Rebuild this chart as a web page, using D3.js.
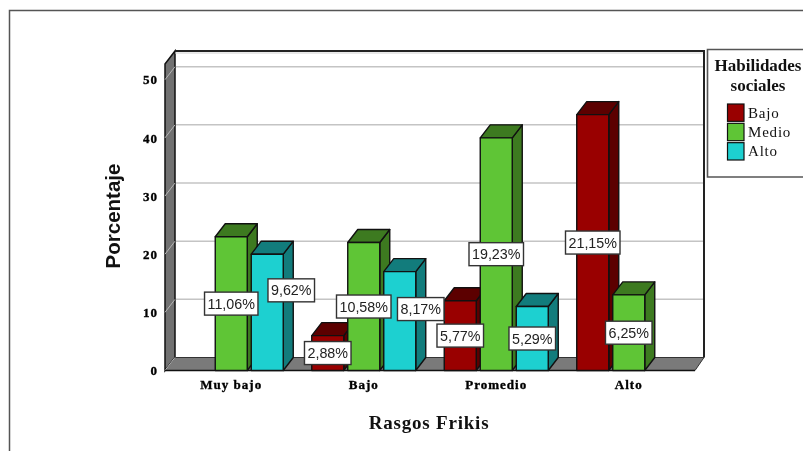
<!DOCTYPE html>
<html><head><meta charset="utf-8">
<script src="https://cdn.jsdelivr.net/npm/d3@7"></script>
<style>
html,body{margin:0;padding:0;background:#fff;overflow:hidden}
svg{display:block;filter:blur(0.35px)}
.serif{font-family:"Liberation Serif",serif}
.sans{font-family:"Liberation Sans",sans-serif}
</style></head><body>
<svg id="c" width="803" height="451"></svg>
<script>
const categories = ["Muy bajo","Bajo","Promedio","Alto"];
const seriesNames = ["Bajo","Medio","Alto"];
const bajoValues  = [null, 6, 12, 44];
const medioValues = [23, 22, 40, 13];
const altoValues  = [20, 17, 11, null];
const bajoLabels  = [null, "2,88%", "5,77%", "21,15%"];
const medioLabels = ["11,06%", "10,58%", "19,23%", "6,25%"];
const altoLabels  = ["9,62%", "8,17%", "5,29%", null];
const yTicks = [0,10,20,30,40,50];
const axisTitleX = "Rasgos Frikis";
const axisTitleY = "Porcentaje";
const legendTitle = ["Habilidades","sociales"];

const seriesValues = [bajoValues, medioValues, altoValues];
const seriesLabels = [bajoLabels, medioLabels, altoLabels];
const fronts = ["#990000","#5FC536","#1DD0D0"];
const shades = ["#5C0000","#3D7A20","#127C7C"];
const DX = 10, DY = 13;

const svg = d3.select("#c");
const x0 = d3.scaleBand().domain(categories).range([165,695]);
const x1 = d3.scaleBand().domain(seriesNames).range([0,104]).paddingInner(1/9);
const groupInset = (x0.bandwidth()-104)/2;
const y = d3.scaleLinear().domain([0,52.7]).range([370.5,64]);
const pts = a => a.map(p=>p.join(",")).join(" ");

// outer frame
svg.append("path").attr("d","M9.5,451V10.5H803").attr("fill","none").attr("stroke","#555").attr("stroke-width",1.5);

const plotLeft=165,plotRight=695,base=y(0),plotTop=y(52.7);
// back wall
svg.append("rect").attr("x",plotLeft+DX).attr("y",plotTop-DY).attr("width",plotRight-plotLeft).attr("height",base-plotTop).attr("fill","#fff");
// gridlines
yTicks.slice(1).forEach(t=>{
  svg.append("line").attr("x1",plotLeft+DX).attr("x2",plotRight+DX-1).attr("y1",y(t)-DY).attr("y2",y(t)-DY)
    .attr("stroke","#C4C4C4").attr("stroke-width",1.5);
});
// left wall & floor
svg.append("polygon").attr("points",pts([[plotLeft,plotTop],[plotLeft+DX,plotTop-DY],[plotLeft+DX,base-DY],[plotLeft,base]]))
  .attr("fill","#717171").attr("stroke","#111").attr("stroke-width",1.5);
svg.append("polygon").attr("points",pts([[plotLeft,base],[plotLeft+DX,base-DY],[plotRight+DX-1,base-DY],[plotRight,base]]))
  .attr("fill","#7A7A7A").attr("stroke","#333").attr("stroke-width",1);
yTicks.forEach(t=>{
  svg.append("line").attr("x1",plotLeft).attr("x2",plotLeft+DX).attr("y1",y(t)).attr("y2",y(t)-DY)
    .attr("stroke","#B5B5B5").attr("stroke-width",1);
});
// top and right edge
svg.append("line").attr("x1",plotLeft+DX).attr("x2",plotRight+DX-1).attr("y1",plotTop-DY+2).attr("y2",plotTop-DY+2).attr("stroke","#D0D0D0").attr("stroke-width",1);
svg.append("path").attr("d",`M${plotLeft+DX},${plotTop-DY}H${plotRight+DX-1}V${base-DY}`).attr("fill","none").attr("stroke","#222").attr("stroke-width",2);
svg.append("line").attr("x1",plotLeft).attr("x2",plotRight).attr("y1",base).attr("y2",base).attr("stroke","#111").attr("stroke-width",1.5);

// bars, left to right
categories.forEach((c,ci)=>{
  seriesNames.forEach((s,si)=>{
    const v = seriesValues[si][ci];
    if(v==null) return;
    const xa = x0(c)+groupInset+x1(s), w = x1.bandwidth(), yt = y(v);
    const g = svg.append("g").attr("stroke","#111").attr("stroke-width",1.4).attr("stroke-linejoin","round");
    g.append("polygon").attr("points",pts([[xa+w,yt],[xa+w+DX,yt-DY],[xa+w+DX,base-DY],[xa+w,base]])).attr("fill",shades[si]);
    g.append("polygon").attr("points",pts([[xa,yt],[xa+DX,yt-DY],[xa+w+DX,yt-DY],[xa+w,yt]])).attr("fill",shades[si]);
    g.append("rect").attr("x",xa).attr("y",yt).attr("width",w).attr("height",base-yt).attr("fill",fronts[si]);
  });
});

// value labels: centred on the bars, two moved clear of their neighbours
const labelShift = {"9,62%":[24,-22],"8,17%":[21,-12]};
categories.forEach((c,ci)=>{
  seriesNames.forEach((s,si)=>{
    const v = seriesValues[si][ci], lab = seriesLabels[si][ci];
    if(v==null) return;
    const sh = labelShift[lab]||[0,0];
    const cx = x0(c)+groupInset+x1(s)+x1.bandwidth()/2+sh[0];
    const cy = (y(v)+base)/2+sh[1];
    const g = svg.append("g");
    const r = g.append("rect").attr("fill","#fff").attr("stroke","#333").attr("stroke-width",1.4);
    const t = g.append("text").attr("class","sans").attr("x",cx).attr("y",cy+5).attr("text-anchor","middle")
      .attr("font-size",14.3).attr("fill","#222").text(lab);
    const tw = t.node().getComputedTextLength();
    r.attr("x",cx-tw/2-3).attr("y",cy-11.5).attr("width",tw+6).attr("height",23);
  });
});

// axes
const styleTicks = sel => sel.attr("class","serif").attr("font-size",13).attr("font-weight","bold")
  .attr("fill","#000").attr("stroke","#000").attr("stroke-width",0.35).attr("letter-spacing",1);
const yAxis = d3.axisLeft(y).tickValues(yTicks).tickSize(0).tickPadding(0).tickFormat(d3.format("d"));
const gy = svg.append("g").attr("transform","translate(158,0)").call(yAxis);
gy.select(".domain").remove();
styleTicks(gy.selectAll("text"));
const xAxis = d3.axisBottom(x0).tickSize(0).tickPadding(0);
const gx = svg.append("g").attr("transform","translate(0,380)").call(xAxis);
gx.select(".domain").remove();
styleTicks(gx.selectAll("text"));

svg.append("text").attr("class","serif").attr("x",429).attr("y",429).attr("text-anchor","middle")
  .attr("font-size",19).attr("font-weight","bold").attr("letter-spacing",0.8).attr("fill","#111").text(axisTitleX);
svg.append("text").attr("class","sans").attr("transform","translate(120,216) rotate(-90)").attr("text-anchor","middle")
  .attr("font-size",20.5).attr("font-weight","bold").attr("fill","#111").text(axisTitleY);

// legend
svg.append("path").attr("d","M803,49.5H707.5V177H803").attr("fill","#fff").attr("stroke","#555").attr("stroke-width",1.6);
legendTitle.forEach((t,i)=>{
  svg.append("text").attr("class","serif").attr("x",758).attr("y",71+i*20).attr("text-anchor","middle")
    .attr("font-size",17).attr("font-weight","bold").attr("fill","#111").text(t);
});
const ly = d3.scaleBand().domain(seriesNames).range([103.5,161.5]);
seriesNames.forEach((s,i)=>{
  svg.append("rect").attr("x",727.5).attr("y",ly(s)+0.5).attr("width",16.5).attr("height",ly.bandwidth()-2)
    .attr("fill",fronts[i]).attr("stroke","#111").attr("stroke-width",1.2);
  svg.append("text").attr("class","serif").attr("x",748).attr("y",ly(s)+14).attr("font-size",15)
    .attr("letter-spacing",0.8).attr("fill","#111").text(s);
});
</script>
</body></html>
